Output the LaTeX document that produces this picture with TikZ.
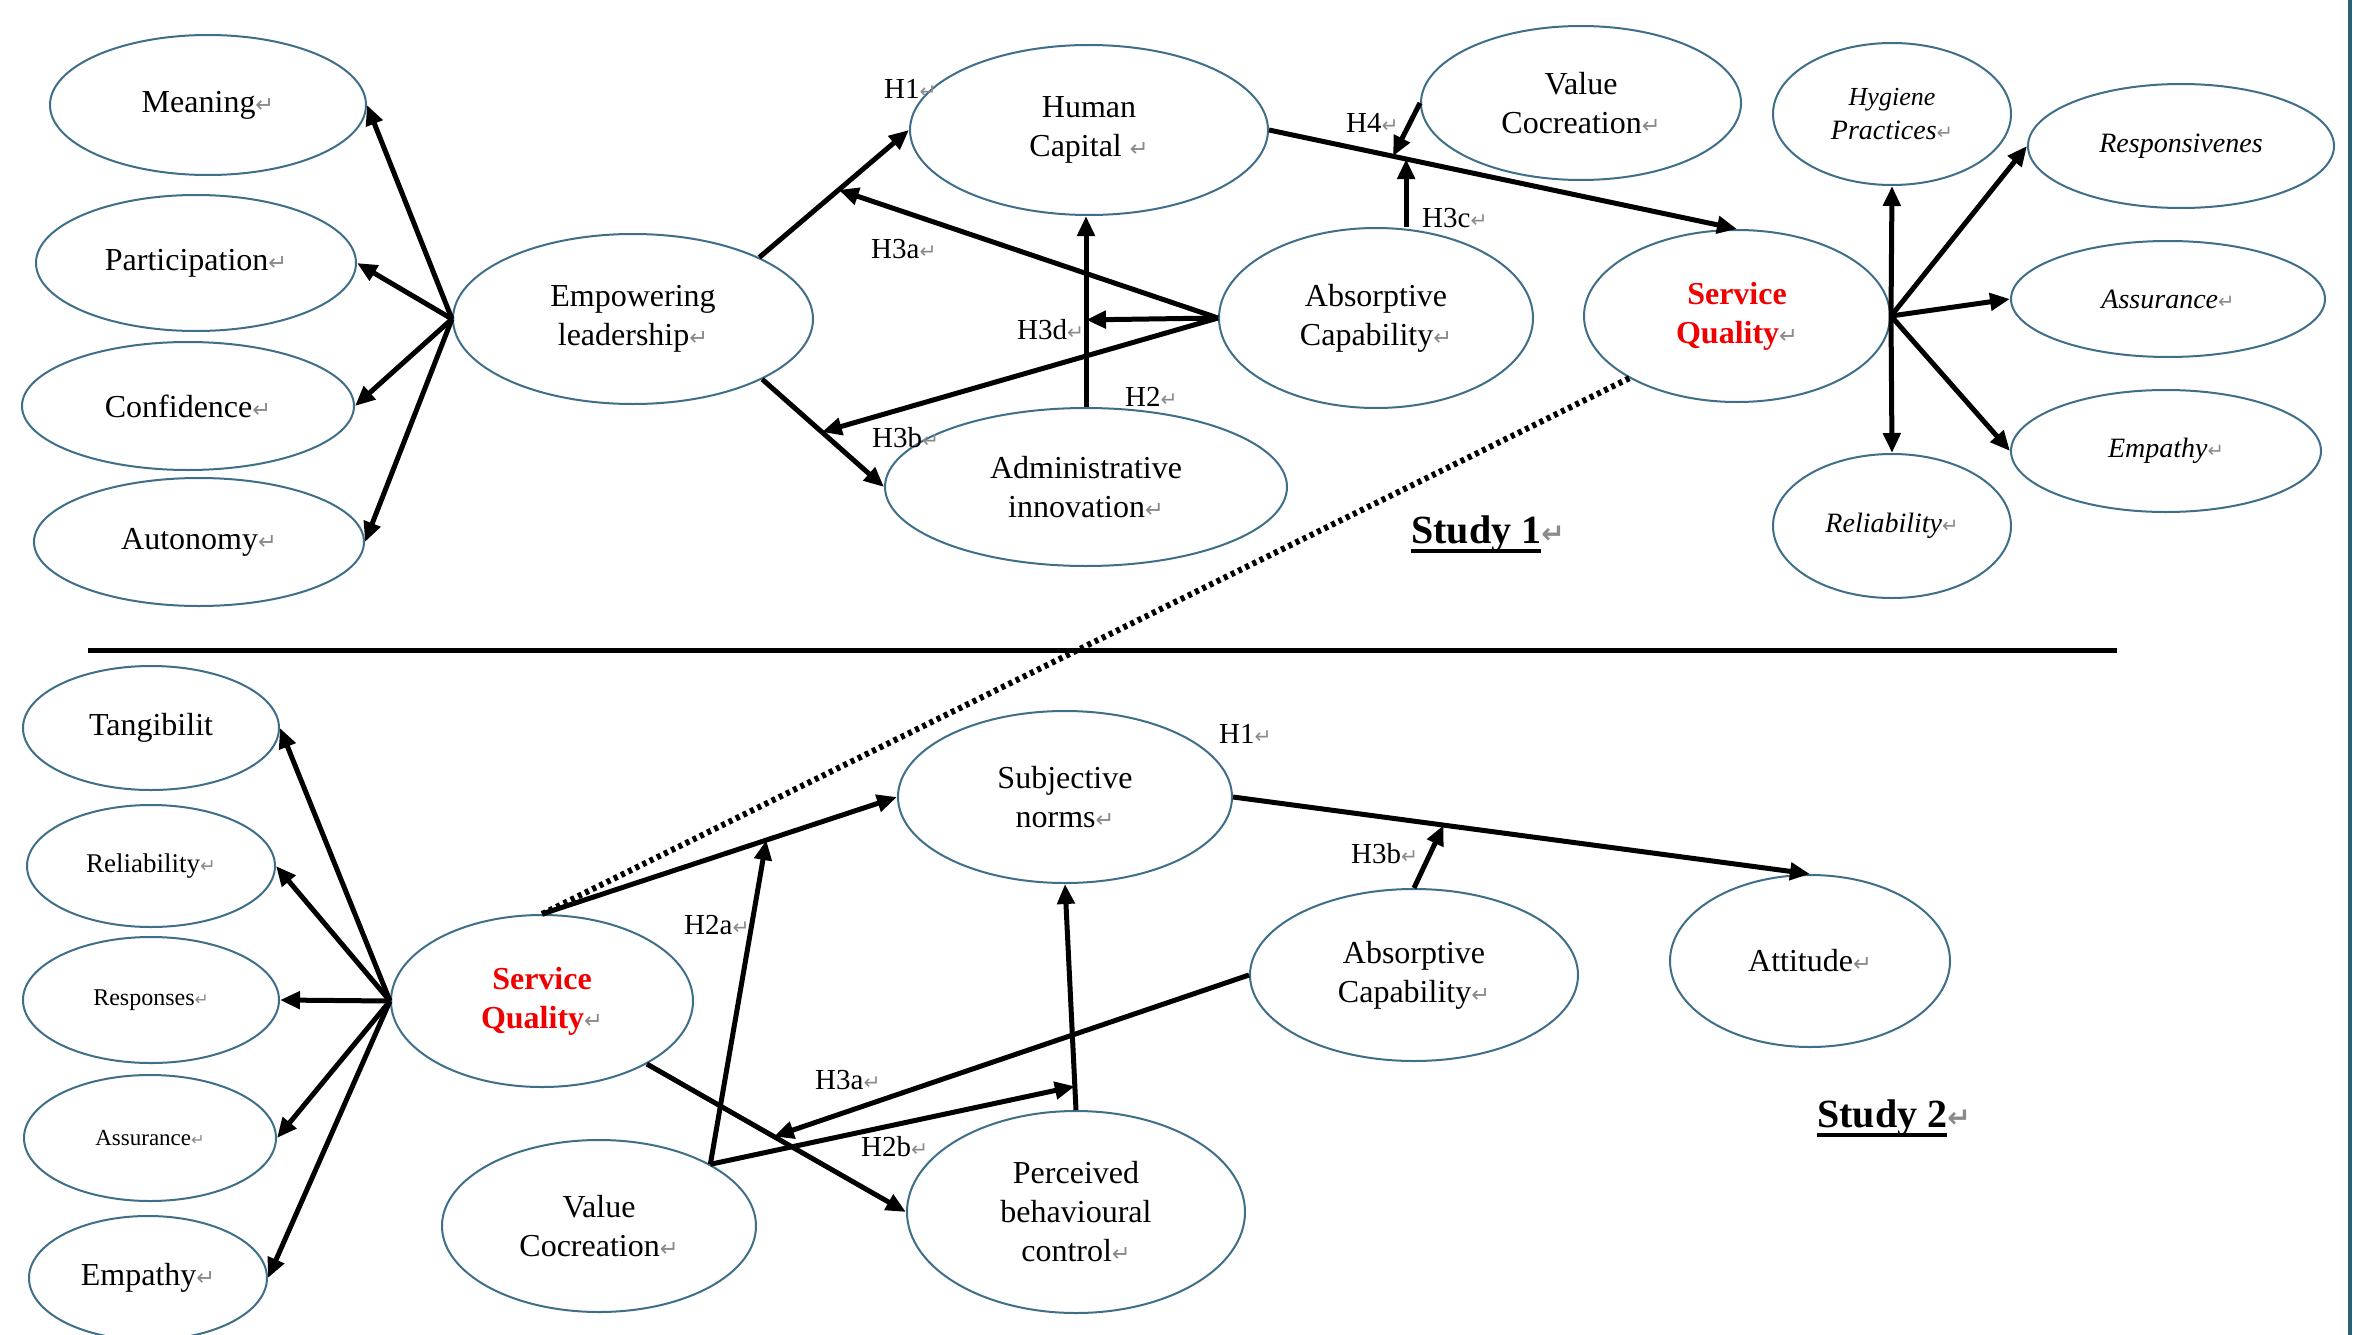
\documentclass[tikz,border=0pt]{standalone}
\usepackage{fontspec}
\setmainfont{Liberation Serif}
\newfontfamily\symf[Scale=0.7]{DejaVu Sans}
\usetikzlibrary{shapes.geometric,arrows.meta,calc}
\definecolor{ellc}{HTML}{3E6E88}
\definecolor{bordc}{HTML}{2B5F73}
\definecolor{retc}{HTML}{8A8A8A}
\definecolor{sqred}{HTML}{F00000}
\newcommand\rt{{\color{retc}\symf ↵}}
\newcommand\fsz[2]{\fontsize{#1}{#2}\selectfont}
\newcommand\ulthick[1]{\setbox0\hbox{#1}\rlap{\rule[-10pt]{\wd0}{4pt}}\box0}
\begin{document}
\begin{tikzpicture}[x=1pt,y=-1pt,
  ell/.style={ellipse, draw=ellc, line width=2pt, inner sep=0pt, align=center, font=\fsz{32}{39}},
  sz/.style 2 args={minimum width=#1pt, minimum height=#2pt},
  itl/.style={font=\fsz{28}{34}\itshape},
  arr/.style={line width=5pt, -{Triangle[length=20pt,width=17pt]}},
  dotline/.style={line width=6pt, dash pattern=on 4pt off 4pt},
  lbl/.style={font=\fsz{29}{34}, inner sep=0pt, anchor=base west},
  study/.style={font=\fsz{40}{46}\bfseries, inner sep=0pt, anchor=base west}]
\useasboundingbox (0,0) rectangle (2353,1335);
\fill[white] (0,0) rectangle (2353,1335);

% ---------- Study 1 nodes ----------
\node[ell, sz={316}{140}] (mean) at (208,105) {Meaning\rt};
\node[ell, sz={320}{136}] (part) at (196,263) {Participation\rt};
\node[ell, sz={332}{128}] (conf) at (188,406) {Confidence\rt};
\node[ell, sz={330}{128}] (auto) at (199,542) {Autonomy\rt};
\node[ell, sz={360}{170}] (emp) at (633,319) {Empowering\\leadership\rt};
\node[ell, sz={358}{170}] (hc) at (1089,130) {Human\\Capital \rt};
\node[ell, sz={402}{158}] (adm) at (1086,487) {Administrative\\innovation\rt};
\node[ell, sz={320}{154}] (vc1) at (1581,103) {Value\\Cocreation\rt};
\node[ell, sz={314}{180}] (ac1) at (1376,318) {Absorptive\\Capability\rt};
\node[ell, sz={306}{172}] (sq1) at (1737,316) {\textcolor{sqred}{\bfseries Service}\\\textcolor{sqred}{\bfseries Quality}\rt};
\node[ell, itl, sz={238}{142}] (hyg) at (1892,114) {\fsz{26}{32}Hygiene\\Practices\rt};
\node[ell, itl, sz={306}{124}] (resp) at (2181,146) {Responsivenes};
\node[ell, itl, sz={314}{116}] (ass1) at (2168,299) {Assurance\rt};
\node[ell, itl, sz={310}{122}] (empa1) at (2166,451) {Empathy\rt};
\node[ell, itl, sz={238}{144}] (rel1) at (1892,526) {Reliability\rt};

% ---------- Study 2 nodes ----------
\node[ell, sz={256}{124}] (tang) at (151,728) {Tangibilit};
\node[ell, sz={248}{122}, font=\fsz{27}{32}] (rel2) at (151,866) {Reliability\rt};
\node[ell, sz={256}{126}, font=\fsz{24}{30}] (resp2) at (151,1000) {Responses\rt};
\node[ell, sz={252}{126}, font=\fsz{23}{30}] (ass2) at (150,1138) {Assurance\rt};
\node[ell, sz={238}{124}] (empa2) at (148,1278) {Empathy\rt};
\node[ell, sz={302}{172}] (sq2) at (542,1001) {\textcolor{sqred}{\bfseries Service}\\\textcolor{sqred}{\bfseries Quality}\rt};
\node[ell, sz={314}{172}] (vc2) at (599,1226) {Value\\Cocreation\rt};
\node[ell, sz={334}{172}] (sn) at (1065,797) {Subjective\\norms\rt};
\node[ell, sz={338}{202}] (pbc) at (1076,1212) {Perceived\\behavioural\\control\rt};
\node[ell, sz={328}{172}] (ac2) at (1414,975) {Absorptive\\Capability\rt};
\node[ell, sz={280}{172}] (att) at (1810,961) {Attitude\rt};

% ---------- Study 1 connectors ----------
\foreach \t in {mean,part,conf,auto} \draw[arr] (emp.west) -- (\t.east);
\draw[arr] (emp.26) -- (hc.west);
\draw[arr] (emp.-25) -- (adm.west);
\coordinate (vtop) at (adm.north |- hc.south);
\draw[arr] (adm.north) -- (vtop);
\path (adm.north) -- (vtop) coordinate[pos=0.456] (h3dpt);
\path (emp.26) -- (hc.west) coordinate[pos=0.53] (h3apt);
\path (emp.-25) -- (adm.west) coordinate[pos=0.49] (h3bpt);
\draw[arr] (ac1.west) -- (h3apt);
\draw[arr] (ac1.west) -- (h3dpt);
\draw[arr] (ac1.west) -- (h3bpt);
\draw[arr] (hc.east) -- (sq1.north);
\path (hc.east) -- (sq1.north) coordinate[pos=0.265] (h4pt) coordinate[pos=0.293] (h3cpt);
\draw[arr] (vc1.west) -- (h4pt);
\coordinate (h3cstart) at (h3cpt |- ac1.north);
\draw[arr] (h3cstart) -- (h3cpt);
\foreach \t/\a in {hyg/south,rel1/north,resp/west,ass1/west,empa1/west} \draw[arr] (sq1.east) -- (\t.\a);

% labels study 1
\node[lbl] (lh1) at (884,99) {H1\rt};
\node[lbl] (lh3a) at (871,258) {H3a\rt};
\node[lbl] (lh3d) at (1017,339) {H3d\rt};
\node[lbl] (lh2) at (1125,406) {H2\rt};
\node[lbl] (lh3b) at (872,447) {H3b\rt};
\node[lbl] (lh4) at (1346,133) {H4\rt};
\node[lbl] (lh3c) at (1422,227) {H3c\rt};
\node[study] (s1) at (1411,543) {\ulthick{Study 1}\rt};

% separator and link
\draw[line width=5pt] (88,650) -- (2117,650);
\draw[dotline] (sq1.210) -- (sq2.north);

% ---------- Study 2 connectors ----------
\foreach \t in {tang,rel2,resp2,ass2,empa2} \draw[arr] (sq2.west) -- (\t.east);
\draw[arr] (sq2.north) -- (sn.west);
\path (sq2.north) -- (sn.west) coordinate[pos=0.632] (h2apt);
\draw[arr] (vc2.29) -- (h2apt);
\draw[arr] (pbc.north) -- (sn.south);
\path (pbc.north) -- (sn.south) coordinate[pos=0.105] (h2bpt);
\draw[arr] (vc2.29) -- (h2bpt);
\draw[arr] (sq2.-31) -- (pbc.west);
\path (sq2.-31) -- (pbc.west) coordinate[pos=0.49] (h3a2pt);
\draw[arr] (ac2.west) -- (h3a2pt);
\draw[arr] (sn.east) -- (att.north);
\path (sn.east) -- (att.north) coordinate[pos=0.365] (h3b2pt);
\draw[arr] (ac2.north) -- (h3b2pt);

% labels study 2
\node[lbl] (mh1) at (1219,743) {H1\rt};
\node[lbl] (mh3b) at (1351,863) {H3b\rt};
\node[lbl] (mh2a) at (684,934) {H2a\rt};
\node[lbl] (mh3a) at (815,1089) {H3a\rt};
\node[lbl] (mh2b) at (861,1156) {H2b\rt};
\node[study] (s2) at (1817,1127) {\ulthick{Study 2}\rt};

% frame edge
\draw[line width=4pt, bordc] (2350,0) -- (2350,1335);
\end{tikzpicture}
\end{document}
